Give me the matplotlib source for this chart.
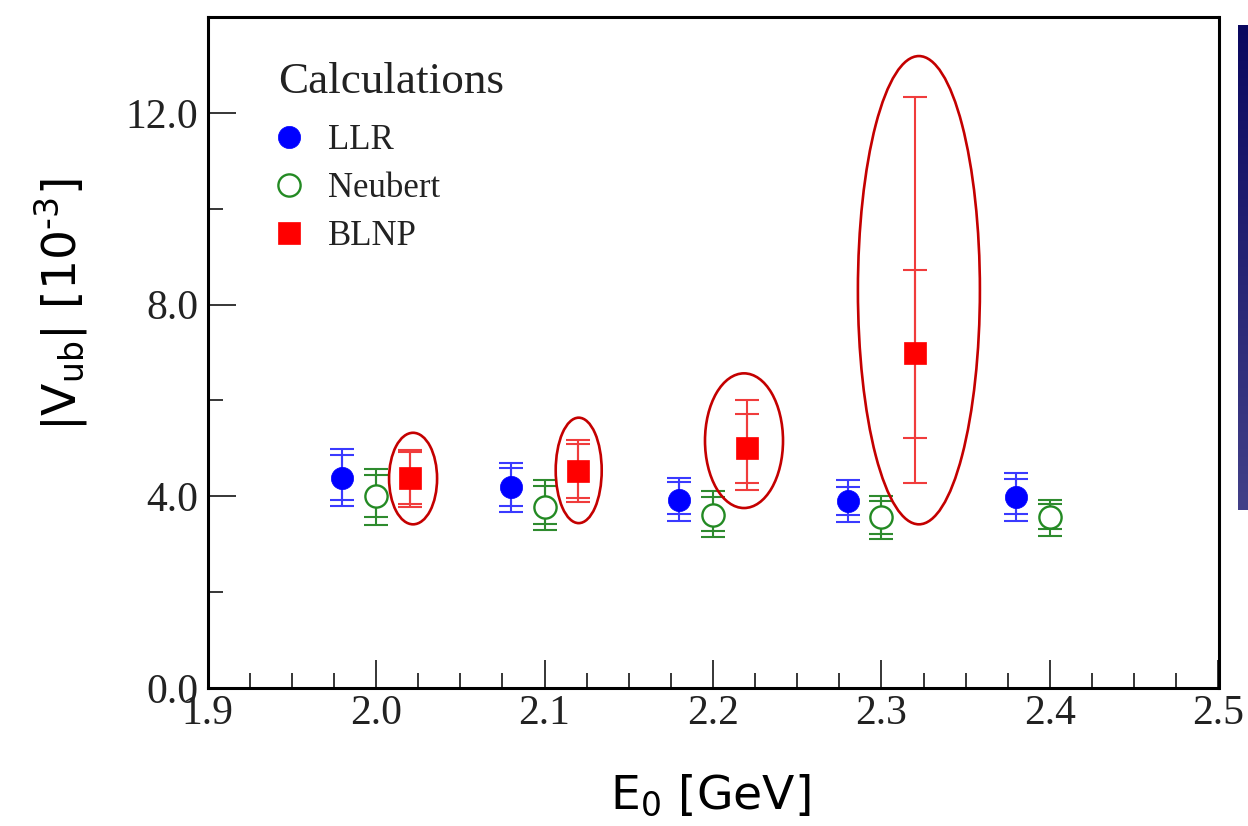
import numpy as np
import matplotlib
matplotlib.use("Agg")
import matplotlib.pyplot as plt
from matplotlib.patches import Ellipse
from matplotlib.ticker import MultipleLocator, FixedLocator

# ---------------- data ----------------
llr_x = [1.98, 2.08, 2.18, 2.28, 2.38]
llr_y = [4.38, 4.19, 3.93, 3.91, 3.99]
llr_in_lo = [3.92, 3.80, 3.62, 3.60, 3.63]
llr_in_hi = [4.86, 4.58, 4.29, 4.20, 4.36]
llr_out_lo = [3.80, 3.68, 3.49, 3.46, 3.48]
llr_out_hi = [4.98, 4.70, 4.39, 4.34, 4.48]

neu_x = [2.00, 2.10, 2.20, 2.30, 2.40]
neu_y = [4.01, 3.78, 3.60, 3.56, 3.56]
neu_in_lo = [3.56, 3.42, 3.28, 3.22, 3.32]
neu_in_hi = [4.44, 4.22, 3.98, 3.91, 3.84]
neu_out_lo = [3.41, 3.30, 3.15, 3.10, 3.18]
neu_out_hi = [4.57, 4.34, 4.10, 4.01, 3.92]

blnp_x = [2.02, 2.12, 2.22, 2.32]
blnp_y = [4.39, 4.53, 5.00, 6.98]
blnp_in_lo = [3.84, 3.96, 4.27, 5.21]
blnp_in_hi = [4.92, 5.09, 5.72, 8.73]
blnp_out_lo = [3.78, 3.89, 4.13, 4.27]
blnp_out_hi = [4.96, 5.17, 6.00, 12.33]

# highlight ellipses around BLNP points: centre x, centre y, width, height (data units)
ell_cx = [2.022, 2.1203, 2.2184, 2.3222]
ell_cy = [4.37, 4.54, 5.16, 8.30]
ell_w = [0.0285, 0.0273, 0.0463, 0.0724]
ell_h = [1.91, 2.20, 2.81, 9.77]

series_labels = ["LLR", "Neubert", "BLNP"]
legend_title = "Calculations"
xtick_vals = [1.9, 2.0, 2.1, 2.2, 2.3, 2.4, 2.5]
ytick_vals = [0.0, 4.0, 8.0, 12.0]

# ---------------- figure ----------------
fig = plt.figure(figsize=(12.48, 8.26), dpi=100)
ax = fig.add_axes([207.5 / 1248, 1 - 688 / 826, (1218.5 - 207.5) / 1248, (688 - 17) / 826])

serif = ["Liberation Serif", "DejaVu Serif"]

def draw_series(x, y, ilo, ihi, olo, ohi, ecol, mcol, marker, mfc, label):
    x = np.array(x); y = np.array(y)
    ax.errorbar(x, y, yerr=[y - np.array(olo), np.array(ohi) - y], fmt='none',
                ecolor=ecol, elinewidth=1.5, capsize=8.3, capthick=1.5, zorder=2)
    ax.errorbar(x, y, yerr=[y - np.array(ilo), np.array(ihi) - y], fmt='none',
                ecolor=ecol, elinewidth=1.5, capsize=8.3, capthick=1.5, zorder=2)
    h, = ax.plot(x, y, linestyle='none', marker=marker, markersize=16,
                 markerfacecolor=mfc, markeredgecolor=mcol,
                 markeredgewidth=1.7 if mfc == 'white' else 0.5,
                 zorder=3, label=label)
    return h

h1 = draw_series(llr_x, llr_y, llr_in_lo, llr_in_hi, llr_out_lo, llr_out_hi,
                 '#3a3aff', '#0000ff', 'o', '#0000ff', series_labels[0])
h2 = draw_series(neu_x, neu_y, neu_in_lo, neu_in_hi, neu_out_lo, neu_out_hi,
                 '#2e8b2e', '#238a23', 'o', 'white', series_labels[1])
h3 = draw_series(blnp_x, blnp_y, blnp_in_lo, blnp_in_hi, blnp_out_lo, blnp_out_hi,
                 '#f03c3c', '#ff0000', 's', '#ff0000', series_labels[2])

for cx, cy, w, h in zip(ell_cx, ell_cy, ell_w, ell_h):
    ax.add_patch(Ellipse((cx, cy), w, h, fill=False, edgecolor='#c40000', linewidth=1.9, zorder=4))

ax.set_xlim(1.9, 2.5)
ax.set_ylim(0, 14)
ax.xaxis.set_major_locator(FixedLocator(xtick_vals))
ax.xaxis.set_minor_locator(MultipleLocator(0.025))
ax.yaxis.set_major_locator(FixedLocator(ytick_vals))
ax.yaxis.set_minor_locator(FixedLocator([2.0, 6.0, 10.0]))
ax.set_xticklabels([f"{v:.1f}" for v in xtick_vals])
ax.set_yticklabels([f"{v:.1f}" for v in ytick_vals])
ax.tick_params(which='both', direction='in', top=False, right=False, width=1.1, color='black')
ax.tick_params(which='major', length=20)
ax.tick_params(which='minor', length=11)
ax.tick_params(axis='y', which='major', pad=6.5)
ax.tick_params(axis='x', which='major', pad=5)
for lab in ax.get_xticklabels() + ax.get_yticklabels():
    lab.set_family(serif)
    lab.set_fontsize(30)
    lab.set_color('#222222')
for sp in ax.spines.values():
    sp.set_linewidth(2.2)

ax.set_xlabel(r'E$_{\mathregular{0}}$ [GeV]', fontsize=34, family='DejaVu Sans', va='center')
ax.xaxis.set_label_coords(0.4975, -0.16)
ax.set_ylabel(r'|V$_{\mathregular{ub}}$| [10$^{\mathregular{' + '\u2010' + r'3}}$]',
              fontsize=34, family='DejaVu Sans', va='center')
ax.yaxis.set_label_coords(-0.145, 0.571)

# legend title and entries
ax.text((278 - 207.5) / 1011, (688 - 93) / 671, legend_title, transform=ax.transAxes,
        family=serif, fontsize=32.5, ha='left', va='baseline', color='#222222')
leg = ax.legend(handles=[h1, h2, h3], loc='upper left',
                bbox_to_anchor=((271.5 - 207.5) / 1011, (688 - 124) / 671),
                frameon=False, prop={'family': serif, 'size': 25},
                borderpad=0, borderaxespad=0,
                handlelength=1.0, handletextpad=0.62, labelspacing=0.43, markerscale=1.0)
for t in leg.get_texts():
    t.set_color('#222222')

# decorative gradient strip at the right edge (slide background)
gax = fig.add_axes([1238 / 1248, 1 - 510 / 826, 10 / 1248, 485 / 826])
top = np.array([10, 8, 95]) / 255
bot = np.array([66, 64, 136]) / 255
t = np.linspace(0, 1, 256)[:, None, None]
grad = top * (1 - t) + bot * t
gax.imshow(grad, aspect='auto', extent=[0, 1, 0, 1])
gax.set_axis_off()

fig.savefig("out.png", dpi=100)
